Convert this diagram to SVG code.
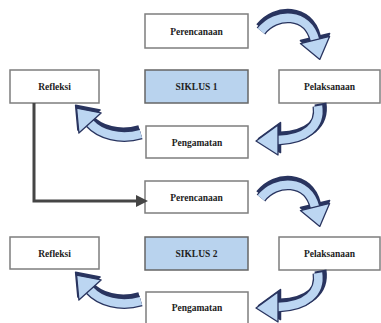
<svg xmlns="http://www.w3.org/2000/svg" width="381" height="323" viewBox="0 0 381 323">
  <defs>
    <style>
      .box { fill: #ffffff; stroke: #7e7e7e; stroke-width: 1.5; }
      .siklus { fill: #b9d3ee; stroke: #666666; stroke-width: 1.5; }
      .lbl { font-family: "Liberation Serif", "Times New Roman", serif; font-weight: bold; font-size: 9.5px; fill: #222222; text-anchor: middle; }
      .bdark { fill: none; stroke: #29345f; stroke-width: 12; }
      .bedge { fill: none; stroke: #29345f; stroke-width: 11; }
      .bface { fill: none; stroke: #bcd6f2; stroke-width: 8.5; }
      .hdark { fill: #29345f; stroke: #29345f; stroke-width: 1.5; stroke-linejoin: round; }
      .hface { fill: #bcd6f2; stroke: #29345f; stroke-width: 1.3; stroke-linejoin: round; }
      .conn { fill: none; stroke: #454545; stroke-width: 3; }
    </style>
    <marker id="ah" markerWidth="4" markerHeight="4" refX="1" refY="2" orient="auto" markerUnits="strokeWidth">
      <path d="M0,0 L4,2 L0,4 Z" fill="#454545"/>
    </marker>
  </defs>
  <rect width="381" height="323" fill="#ffffff"/>

  <!-- Cycle 1 nodes -->
  <g id="perencanaan1"><rect class="box" x="145" y="14" width="103" height="34"/><text class="lbl" x="196.5" y="34.5">Perencanaan</text></g>
  <g id="refleksi1"><rect class="box" x="10" y="70" width="89" height="33"/><text class="lbl" x="54.5" y="90">Refleksi</text></g>
  <g id="siklus1"><rect class="siklus" x="145" y="70" width="103" height="33"/><text class="lbl" x="196.5" y="90">SIKLUS 1</text></g>
  <g id="pelaksanaan1"><rect class="box" x="279" y="70" width="101" height="33"/><text class="lbl" x="329.5" y="90">Pelaksanaan</text></g>
  <g id="pengamatan1"><rect class="box" x="146" y="126" width="102" height="32"/><text class="lbl" x="197" y="145.5">Pengamatan</text></g>

  <!-- Cycle 2 nodes -->
  <g id="perencanaan2"><rect class="box" x="145" y="181" width="103" height="32"/><text class="lbl" x="196.5" y="200.5">Perencanaan</text></g>
  <g id="refleksi2"><rect class="box" x="10" y="237" width="89" height="32"/><text class="lbl" x="54.5" y="256.5">Refleksi</text></g>
  <g id="siklus2"><rect class="siklus" x="145" y="237" width="103" height="33"/><text class="lbl" x="196.5" y="257">SIKLUS 2</text></g>
  <g id="pelaksanaan2"><rect class="box" x="279" y="237" width="101" height="33"/><text class="lbl" x="329.5" y="257">Pelaksanaan</text></g>
  <g id="pengamatan2"><rect class="box" x="146" y="292" width="102" height="34"/><text class="lbl" x="197" y="310.5">Pengamatan</text></g>

  <!-- Connectors -->
  <g id="connectors">
    <path class="conn" d="M34,103 V201 H139" marker-end="url(#ah)"/>

    <g id="cycle1-arrows">
      <!-- A: Perencanaan -> Pelaksanaan -->
      <g transform="translate(0,-3)">
        <path class="bdark" d="M261,31 C276,12 308,12 315,40"/>
        <polygon class="hdark" points="329.6,36.4 319.8,59.4 300.4,43.6"/>
      </g>
      <path class="bedge" d="M261,31 C276,12 308,12 315,40"/>
      <path class="bface" d="M261,31 C276,12 308,12 315,40"/>
      <polygon class="hface" points="329.6,36.4 319.8,59.4 300.4,43.6"/>

      <!-- B: Pelaksanaan -> Pengamatan -->
      <g transform="translate(2.5,-2.5)">
        <path class="bdark" d="M318,106 C321,126 306,139 278,140"/>
        <polygon class="hdark" points="278,125 256,141 278,155"/>
      </g>
      <path class="bedge" d="M318,106 C321,126 306,139 278,140"/>
      <path class="bface" d="M318,106 C321,126 306,139 278,140"/>
      <polygon class="hface" points="278,125 256,141 278,155"/>

      <!-- C: Pengamatan -> Refleksi -->
      <g transform="translate(-1,-3)">
        <path class="bdark" d="M141,134 C120,140 100,134 90,123"/>
        <polygon class="hdark" points="101.1,112.9 76.6,108.2 78.9,133.1"/>
      </g>
      <path class="bedge" d="M141,134 C120,140 100,134 90,123"/>
      <path class="bface" d="M141,134 C120,140 100,134 90,123"/>
      <polygon class="hface" points="101.1,112.9 76.6,108.2 78.9,133.1"/>
    </g>

    <g id="cycle2-arrows" transform="translate(0,167)">
      <g transform="translate(0,-3)">
        <path class="bdark" d="M261,31 C276,12 308,12 315,40"/>
        <polygon class="hdark" points="329.6,36.4 319.8,59.4 300.4,43.6"/>
      </g>
      <path class="bedge" d="M261,31 C276,12 308,12 315,40"/>
      <path class="bface" d="M261,31 C276,12 308,12 315,40"/>
      <polygon class="hface" points="329.6,36.4 319.8,59.4 300.4,43.6"/>

      <g transform="translate(2.5,-2.5)">
        <path class="bdark" d="M318,106 C321,126 306,139 278,140"/>
        <polygon class="hdark" points="278,125 256,141 278,155"/>
      </g>
      <path class="bedge" d="M318,106 C321,126 306,139 278,140"/>
      <path class="bface" d="M318,106 C321,126 306,139 278,140"/>
      <polygon class="hface" points="278,125 256,141 278,155"/>

      <g transform="translate(-1,-3)">
        <path class="bdark" d="M141,134 C120,140 100,134 90,123"/>
        <polygon class="hdark" points="101.1,112.9 76.6,108.2 78.9,133.1"/>
      </g>
      <path class="bedge" d="M141,134 C120,140 100,134 90,123"/>
      <path class="bface" d="M141,134 C120,140 100,134 90,123"/>
      <polygon class="hface" points="101.1,112.9 76.6,108.2 78.9,133.1"/>
    </g>
  </g>
</svg>
